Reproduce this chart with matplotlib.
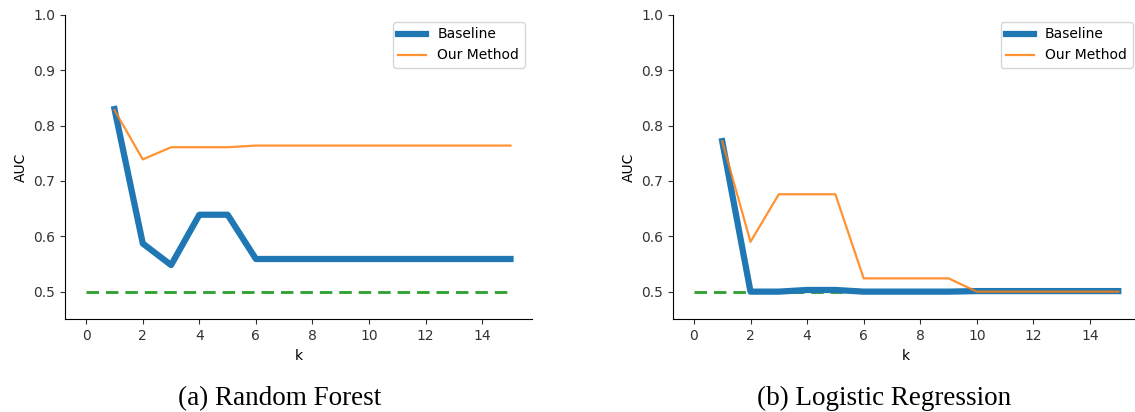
import matplotlib
matplotlib.use("Agg")
import matplotlib.pyplot as plt

# valeurs
k = [1, 2, 3, 4, 5, 6, 7, 8, 9, 10, 11, 12, 13, 14, 15]
rf_baseline = [0.830, 0.587, 0.548, 0.639, 0.639, 0.559, 0.559, 0.559, 0.559, 0.559, 0.559, 0.559, 0.559, 0.559, 0.559]
rf_ours = [0.828, 0.739, 0.761, 0.761, 0.761, 0.764, 0.764, 0.764, 0.764, 0.764, 0.764, 0.764, 0.764, 0.764, 0.764]
lr_baseline = [0.772, 0.500, 0.500, 0.503, 0.503, 0.500, 0.500, 0.500, 0.500, 0.501, 0.501, 0.501, 0.501, 0.501, 0.501]
lr_ours = [0.772, 0.590, 0.676, 0.676, 0.676, 0.524, 0.524, 0.524, 0.524, 0.500, 0.500, 0.500, 0.500, 0.500, 0.500]
chance_x = [0, 15]
chance_y = [0.5, 0.5]
captions = ["(a) Random Forest", "(b) Logistic Regression"]

W, H = 1135, 412
fig = plt.figure(figsize=(W / 100, H / 100), dpi=100)

def panneau(x0, x1, base, ours, caption, cx):
    ax = fig.add_axes([x0 / W, 1 - 319.3 / H, (x1 - x0) / W, (319.3 - 15) / H])
    ax.plot(k, base, color="#1f77b4", lw=4.5, label="Baseline")
    ax.plot(k, ours, color="#ff7f0e", lw=1.6, alpha=0.85, label="Our Method")
    ax.plot(chance_x, chance_y, color="#2ca02c", lw=2, ls="--", dashes=(4.5, 2.5), zorder=1)
    ax.set_ylim(0.45, 1.0)
    ax.set_xlim(-0.75, 15.75)
    ax.set_xticks(range(0, 16, 2))
    ax.set_yticks([0.5, 0.6, 0.7, 0.8, 0.9, 1.0])
    ax.spines["top"].set_visible(False)
    ax.spines["right"].set_visible(False)
    ax.tick_params(labelsize=10, colors="#333333")
    ax.set_xlabel("k", fontsize=10)
    ax.set_ylabel("AUC", fontsize=10)
    ax.legend(loc="upper right", fontsize=10)
    fig.text(cx / W, 1 - 405 / H, caption, ha="center", va="baseline",
             family="Liberation Serif", fontsize=19.5)
    return ax

panneau(65, 531.7, rf_baseline, rf_ours, captions[0], 279.7)
panneau(672.7, 1139.5, lr_baseline, lr_ours, captions[1], 883.7)

fig.savefig("out.png", dpi=100)
